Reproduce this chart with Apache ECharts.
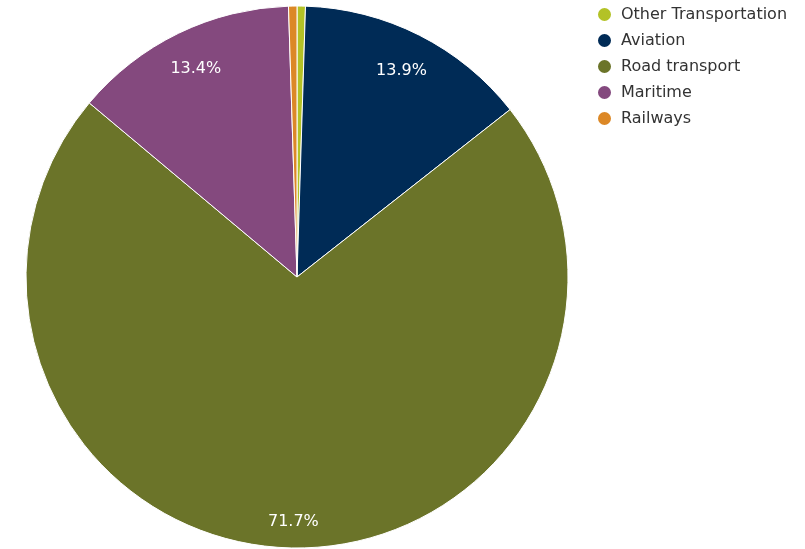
<!DOCTYPE html>
<html><head><meta charset="utf-8">
<script src="https://cdn.jsdelivr.net/npm/echarts@6/dist/echarts.min.js"></script>
<style>html,body{margin:0;padding:0;background:#fff}#c{width:805px;height:549px}</style>
</head><body><div id="c"></div>
<script>
const categories = ['Other Transportation', 'Aviation', 'Road transport', 'Maritime', 'Railways'];
const values = [0.5, 13.9, 71.7, 13.4, 0.5];
const colors = ['#b3c226', '#002b56', '#6b7429', '#84497e', '#dc8826'];
const labelMin = 5;

const chart = echarts.init(document.getElementById('c'), null, {renderer: 'canvas'});
const mainData = categories.map((n, i) => ({name: n, value: values[i], itemStyle: {color: colors[i]}}));
const labelData = categories.map((n, i) => ({
  name: n, value: values[i],
  label: {show: values[i] >= labelMin, offset: n === 'Road transport' ? [0, 13] : [0, 0]}
}));
chart.setOption({
  animation: false,
  legend: {
    orient: 'vertical', left: 591, top: 1, icon: 'circle',
    itemWidth: 15, itemHeight: 15, itemGap: 9,
    textStyle: {fontFamily: 'DejaVu Sans', fontSize: 16, lineHeight: 16, color: '#333', padding: [0, 0, 0, 4]},
    data: categories
  },
  series: [{
    type: 'pie', center: [297, 277], radius: 271, startAngle: 90, clockwise: true,
    label: {show: false}, labelLine: {show: false},
    itemStyle: {borderColor: '#fff', borderWidth: 1},
    emphasis: {disabled: true},
    data: mainData
  }, {
    type: 'pie', center: [297, 277], radius: [186, 271], startAngle: 90, clockwise: true,
    silent: true, legendHoverLink: false,
    itemStyle: {color: 'rgba(0,0,0,0)', borderWidth: 0},
    label: {position: 'inside', formatter: p => p.value.toFixed(1) + '%', color: '#fff',
      fontFamily: 'DejaVu Sans', fontSize: 16, textBorderWidth: 0},
    labelLine: {show: false},
    emphasis: {disabled: true},
    tooltip: {show: false},
    data: labelData
  }]
});
</script></body></html>
